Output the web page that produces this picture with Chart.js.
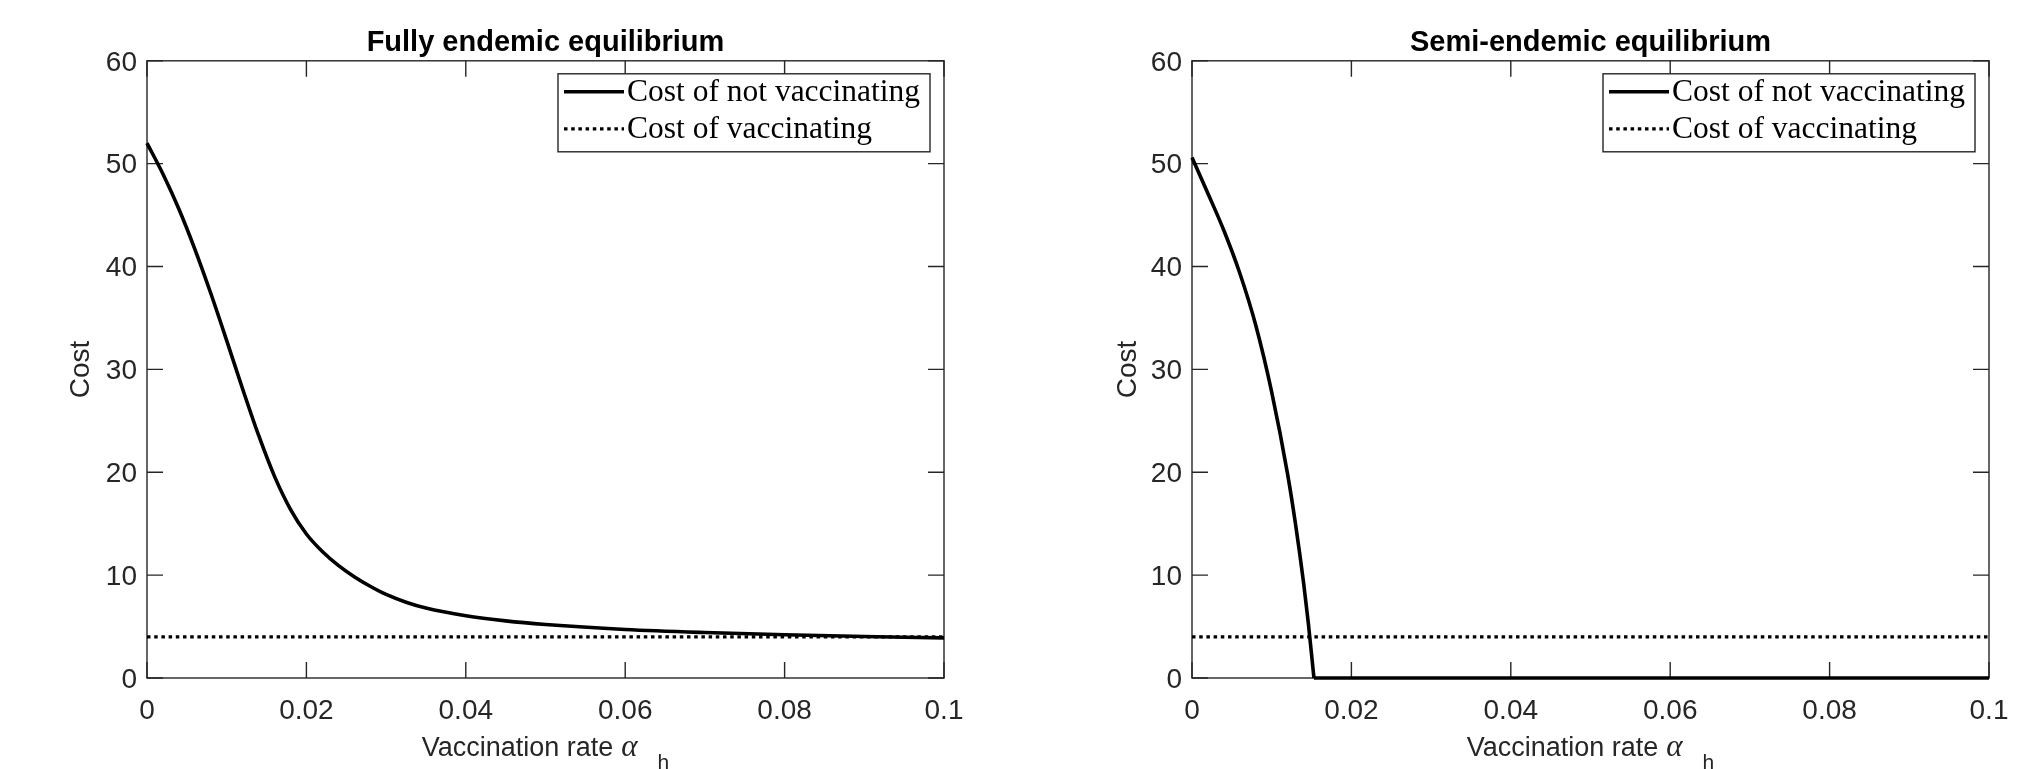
<!DOCTYPE html>
<html><head><meta charset="utf-8">
<script src="https://cdn.jsdelivr.net/npm/chart.js@4/dist/chart.umd.min.js"></script>
<style>
html,body{margin:0;padding:0;background:#fff;width:2043px;height:769px;overflow:hidden}
.wrap{position:absolute;top:0;height:769px}
canvas{display:block}
</style></head><body>
<div class="wrap" style="left:0;width:1021px"><canvas id="c1" width="1021" height="769"></canvas></div>
<div class="wrap" style="left:1021px;width:1022px"><canvas id="c2" width="1022" height="769"></canvas></div>
<script>
// ---- data ----
const xTicks = [0, 0.02, 0.04, 0.06, 0.08, 0.1];
const xTickLabels = ['0', '0.02', '0.04', '0.06', '0.08', '0.1'];
const yTicks = [0, 10, 20, 30, 40, 50, 60];
const yTickLabels = ['0', '10', '20', '30', '40', '50', '60'];

const fullyX = [0, 0.002, 0.004, 0.006, 0.008, 0.010, 0.012, 0.014, 0.016, 0.018, 0.020, 0.022, 0.024, 0.026, 0.028, 0.030, 0.0325, 0.035, 0.040, 0.045, 0.050, 0.060, 0.070, 0.080, 0.090, 0.100];
const fullyY = [52.0, 49.0, 45.6, 41.7, 37.4, 32.8, 28.1, 23.6, 19.6, 16.4, 14.0, 12.3, 10.95, 9.85, 8.92, 8.12, 7.37, 6.8, 6.05, 5.55, 5.2, 4.72, 4.42, 4.2, 4.03, 3.9];

const semiDropX = [0, 0.002, 0.004, 0.006, 0.008, 0.010, 0.012, 0.013, 0.014, 0.0146, 0.0153];
const semiDropY = [50.6, 47.1, 43.5, 39.35, 34.3, 27.8, 19.8, 14.9, 9.25, 5.3, 0];
const semiFlatX = [0.0153, 0.1];
const semiFlatY = [0, 0];

const vaccX = [0, 0.1];
const vaccY = [4, 4];

const titles = ['Fully endemic equilibrium', 'Semi-endemic equilibrium'];
const legendLabels = ['Cost of not vaccinating', 'Cost of vaccinating'];
const xAxisLabel = 'Vaccination rate';
const xAxisSymbol = 'α';
const xAxisSub = 'h';
const yAxisLabel = 'Cost';

// ---- helpers ----
const SANS = '"Liberation Sans", Arial, Helvetica, sans-serif';
const SERIF = '"Liberation Serif", "Times New Roman", serif';
const AX = '#262626';
const pts = (xs, ys) => xs.map((x, i) => ({x, y: ys[i]}));

const frame = {
  id: 'matlabFrame',
  beforeDatasetsDraw(chart) {
    const {ctx, chartArea: a, scales: {x, y}} = chart;
    ctx.save();
    ctx.strokeStyle = AX;
    ctx.lineWidth = 1.4;
    ctx.strokeRect(a.left, a.top, a.right - a.left, a.bottom - a.top);
    const L = 16;
    ctx.beginPath();
    xTicks.forEach(v => {
      const p = x.getPixelForValue(v);
      ctx.moveTo(p, a.bottom); ctx.lineTo(p, a.bottom - L);
      ctx.moveTo(p, a.top); ctx.lineTo(p, a.top + L);
    });
    yTicks.forEach(v => {
      const p = y.getPixelForValue(v);
      ctx.moveTo(a.left, p); ctx.lineTo(a.left + L, p);
      ctx.moveTo(a.right, p); ctx.lineTo(a.right - L, p);
    });
    ctx.stroke();
    ctx.restore();
  },
  afterDraw(chart) {
    const {ctx, chartArea: a} = chart;
    ctx.save();
    // legend
    const bw = 372, bh = 78;
    const bx = a.right - 14 - bw, by = a.top + 13;
    ctx.fillStyle = '#fff';
    ctx.fillRect(bx, by, bw, bh);
    ctx.strokeStyle = AX;
    ctx.lineWidth = 1.4;
    ctx.strokeRect(bx, by, bw, bh);
    const rows = [by + 18, by + 55];
    ctx.strokeStyle = '#000';
    ctx.lineWidth = 3.5;
    ctx.beginPath(); ctx.moveTo(bx + 6, rows[0]); ctx.lineTo(bx + 66, rows[0]); ctx.stroke();
    ctx.lineWidth = 3.3;
    ctx.setLineDash([3.5, 3.7]);
    ctx.beginPath(); ctx.moveTo(bx + 6, rows[1]); ctx.lineTo(bx + 66, rows[1]); ctx.stroke();
    ctx.setLineDash([]);
    ctx.fillStyle = '#000';
    ctx.font = '31.5px ' + SERIF;
    ctx.textBaseline = 'middle';
    ctx.textAlign = 'left';
    ctx.fillText(legendLabels[0], bx + 69, rows[0] + 1);
    ctx.fillText(legendLabels[1], bx + 69, rows[1] + 1);
    // x axis label
    const f1 = '27px ' + SANS, f2 = 'italic 31px ' + SERIF, f3 = '21px ' + SANS;
    const gap1 = 8, gap2 = 20;
    ctx.font = f1; const w1 = ctx.measureText(xAxisLabel).width;
    ctx.font = f2; const w2 = ctx.measureText(xAxisSymbol).width;
    ctx.font = f3; const w3 = ctx.measureText(xAxisSub).width;
    const cx = (a.left + a.right) / 2;
    const sx = cx - (w1 + gap1 + w2 + gap2 + w3) / 2;
    ctx.textBaseline = 'alphabetic';
    ctx.fillStyle = AX;
    ctx.font = f1; ctx.fillText(xAxisLabel, sx, 756);
    ctx.font = f2; ctx.fillText(xAxisSymbol, sx + w1 + gap1, 756);
    ctx.font = f3; ctx.fillText(xAxisSub, sx + w1 + gap1 + w2 + gap2, 769);
    ctx.restore();
  }
};

function makeChart(id, title, datasets, yWidth, padRight, yTitlePad) {
  return new Chart(document.getElementById(id), {
    type: 'line',
    data: {datasets},
    plugins: [frame],
    options: {
      responsive: false,
      animation: false,
      events: [],
      layout: {padding: {left: 0, right: padRight, top: 0, bottom: 0}},
      plugins: {
        legend: {display: false},
        tooltip: {enabled: false},
        title: {
          display: true, text: title, color: '#000', fullSize: false,
          font: {family: SANS, size: 29, weight: 'bold'},
          padding: {top: 26, bottom: 0}
        }
      },
      elements: {point: {radius: 0}},
      scales: {
        x: {
          type: 'linear', min: 0, max: 0.1,
          afterBuildTicks: s => { s.ticks = xTicks.map(v => ({value: v})); },
          afterFit: s => { s.height = 91; },
          ticks: {
            callback: (v, i) => xTickLabels[i],
            color: AX, font: {family: SANS, size: 28}, padding: 16,
            maxRotation: 0, autoSkip: false
          },
          grid: {display: false, drawTicks: false},
          border: {display: false}
        },
        y: {
          type: 'linear', min: 0, max: 60,
          afterBuildTicks: s => { s.ticks = yTicks.map(v => ({value: v})); },
          afterFit: s => { s.width = yWidth; },
          ticks: {
            callback: (v, i) => yTickLabels[i],
            color: AX, font: {family: SANS, size: 28}, padding: 10, autoSkip: false,
            labelOffset: 2
          },
          grid: {display: false, drawTicks: false},
          border: {display: false},
          title: {
            display: true, text: yAxisLabel, color: AX,
            font: {family: SANS, size: 28}, padding: {top: yTitlePad, bottom: 0}
          }
        }
      }
    }
  });
}

const solid = (data) => ({data, borderColor: '#000', borderWidth: 3.6, fill: false,
  cubicInterpolationMode: 'monotone', clip: 8, pointRadius: 0});
const dotted = (data) => ({data, borderColor: '#000', borderWidth: 3.3, fill: false,
  borderDash: [3.5, 3.7], borderCapStyle: 'butt', clip: 8, pointRadius: 0, tension: 0});

makeChart('c1', titles[0], [
  Object.assign(solid(pts(fullyX, fullyY)), {label: legendLabels[0]}),
  Object.assign(dotted(pts(vaccX, vaccY)), {label: legendLabels[1]})
], 147, 77, 64);

makeChart('c2', titles[1], [
  Object.assign(solid(pts(semiDropX, semiDropY)), {label: legendLabels[0]}),
  Object.assign(solid(pts(semiFlatX, semiFlatY)), {label: legendLabels[0] + ' '}),
  Object.assign(dotted(pts(vaccX, vaccY)), {label: legendLabels[1]})
], 171, 54, 90);
</script>
</body></html>
